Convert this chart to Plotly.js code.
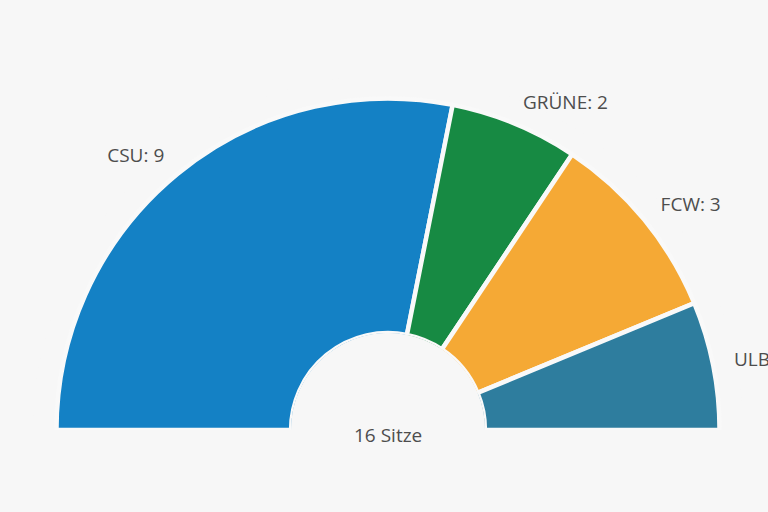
<!DOCTYPE html>
<html>
<head>
<meta charset="utf-8">
<script src="https://cdn.plot.ly/plotly-3.0.1.min.js"></script>
<style>html,body{margin:0;padding:0;background:#f7f7f7;}#chart{width:768px;height:512px;}</style>
</head>
<body>
<div id="chart"></div>
<script>
const parties = ["CSU", "GRÜNE", "FCW", "ULB"];
const seats = [9, 2, 3, 2];
const colors = ["#1481c5", "#178a43", "#f5a935", "#2e7d9e"];
const totalLabel = "Sitze";

const total = seats.reduce((a, b) => a + b, 0);
const degPerSeat = 180 / total;
const theta = [], width = [], labels = [], textpos = [];
let acc = 0;
seats.forEach((s, i) => {
  const mid = (acc + s / 2) * degPerSeat;
  theta.push(mid);
  width.push(s * degPerSeat);
  labels.push(parties[i] + ": " + s);
  textpos.push(mid < 90 ? "middle left" : "middle right");
  acc += s;
});

const fontSpec = { family: "Open Sans, sans-serif", size: 19, color: "#4d4d4d" };

const bars = {
  type: "barpolar",
  r: seats.map(() => 1),
  theta: theta,
  width: width,
  marker: { color: colors, line: { color: "#f9f9f9", width: 4.5 } },
  hoverinfo: "skip",
  showlegend: false
};
const text = {
  type: "scatterpolar",
  mode: "text",
  r: seats.map(() => 1.09),
  theta: theta,
  text: labels,
  textposition: textpos,
  textfont: fontSpec,
  cliponaxis: false,
  hoverinfo: "skip",
  showlegend: false
};

const layout = {
  width: 768,
  height: 512,
  paper_bgcolor: "#f7f7f7",
  plot_bgcolor: "#f7f7f7",
  margin: { l: 33, r: 25, t: 75, b: 82 },
  showlegend: false,
  polar: {
    bgcolor: "#f7f7f7",
    sector: [0, 180],
    hole: 0.273,
    radialaxis: { visible: false, range: [0, 1.1] },
    angularaxis: { visible: false, rotation: 180, direction: "clockwise" }
  },
  annotations: [{
    xref: "paper", yref: "paper", x: 0.5, y: 0,
    yanchor: "middle", yshift: -5, showarrow: false,
    text: total + " " + totalLabel,
    font: fontSpec
  }]
};

Plotly.newPlot("chart", [bars, text], layout, { displayModeBar: false, staticPlot: true });
</script>
</body>
</html>
